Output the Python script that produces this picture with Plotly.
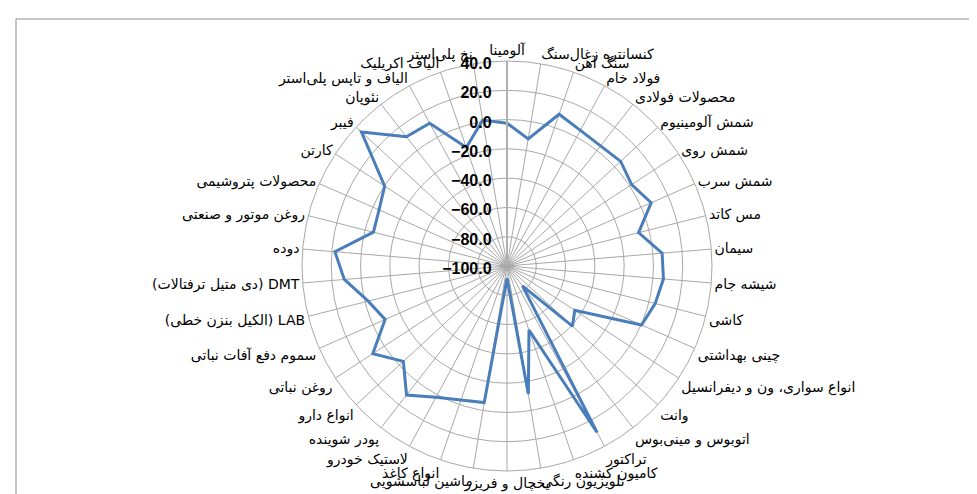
import plotly.graph_objects as go

categories = [
    "آلومینا", "کنسانتره زغال‌سنگ", "سنگ آهن", "فولاد خام", "محصولات فولادی",
    "شمش آلومینیوم", "شمش روی", "شمش سرب", "مس کاتد", "سیمان",
    "شیشه جام", "کاشی", "چینی بهداشتی", "انواع سواری، ون و دیفرانسیل", "وانت",
    "اتوبوس و مینی‌بوس", "تراکتور", "کامیون کشنده", "تلویزیون رنگی", "یخچال و فریزر",
    "ماشین لباسشویی", "انواع کاغذ", "لاستیک خودرو", "پودر شوینده", "انواع دارو",
    "روغن نباتی", "سموم دفع آفات نباتی", "(الکیل بنزن خطی) LAB", "(دی متیل ترفتالات) DMT", "دوده",
    "روغن موتور و صنعتی", "محصولات پتروشیمی", "کارتن", "فیبر", "نئوپان",
    "الیاف و تاپس پلی‌استر", "الیاف اکریلیک", "نخ پلی‌استر",
]

values = [
    -2.5, -12.0, 9.6, 5.3, 4.0,
    5.5, 1.7, 7.5, -7.3, 6.3,
    7.2, 4.4, 0.3, -44.7, -39.3,
    -82.8, 29.3, -53.8, -11.4, -91.6,
    -5.5, -3.3, 1.9, 11.7, -3.8,
    9.5, -9.1, -2.2, 11.5, 17.9,
    -5.9, -4.6, -0.2, 35.1, 11.9,
    10.9, -14.4, 1.0,
]

radial_ticks = [-100, -80, -60, -40, -20, 0, 20, 40]

W, H = 977, 494
cx, cy, R = 499, 258, 205

fig = go.Figure()
fig.add_trace(go.Scatterpolar(
    r=values + values[:1],
    theta=categories + categories[:1],
    mode="lines",
    line=dict(color="#4a7ebb", width=3),
    showlegend=False,
    hoverinfo="skip",
))

fig.update_layout(
    width=W, height=H,
    margin=dict(l=0, r=0, t=0, b=0),
    paper_bgcolor="white",
    plot_bgcolor="white",
    polar=dict(
        domain=dict(x=[(cx - R) / W, (cx + R) / W],
                    y=[(H - cy - R) / H, (H - cy + R) / H]),
        bgcolor="white",
        radialaxis=dict(
            range=[-100, 40],
            tickvals=radial_ticks,
            tickformat=".1f",
            angle=90,
            side="counterclockwise",
            showline=True,
            linecolor="#b0b0b0",
            linewidth=2,
            gridcolor="#a8a8a8",
            gridwidth=1,
            ticks="",
            tickfont=dict(family="Liberation Sans", size=16, color="black", weight="bold"),
        ),
        angularaxis=dict(
            direction="clockwise",
            rotation=90,
            type="category",
            categoryarray=categories,
            showline=True,
            linecolor="#a8a8a8",
            linewidth=1,
            gridcolor="#a8a8a8",
            gridwidth=1,
            ticks="",
            tickfont=dict(family="DejaVu Sans", size=14, color="black"),
        ),
    ),
    shapes=[
        dict(type="rect", xref="paper", yref="paper",
             x0=8 / W, x1=969 / W, y0=-0.05, y1=(H - 11) / H,
             line=dict(color="#8c8c8c", width=1), fillcolor="rgba(0,0,0,0)"),
    ],
)

fig.write_html("out.html")
